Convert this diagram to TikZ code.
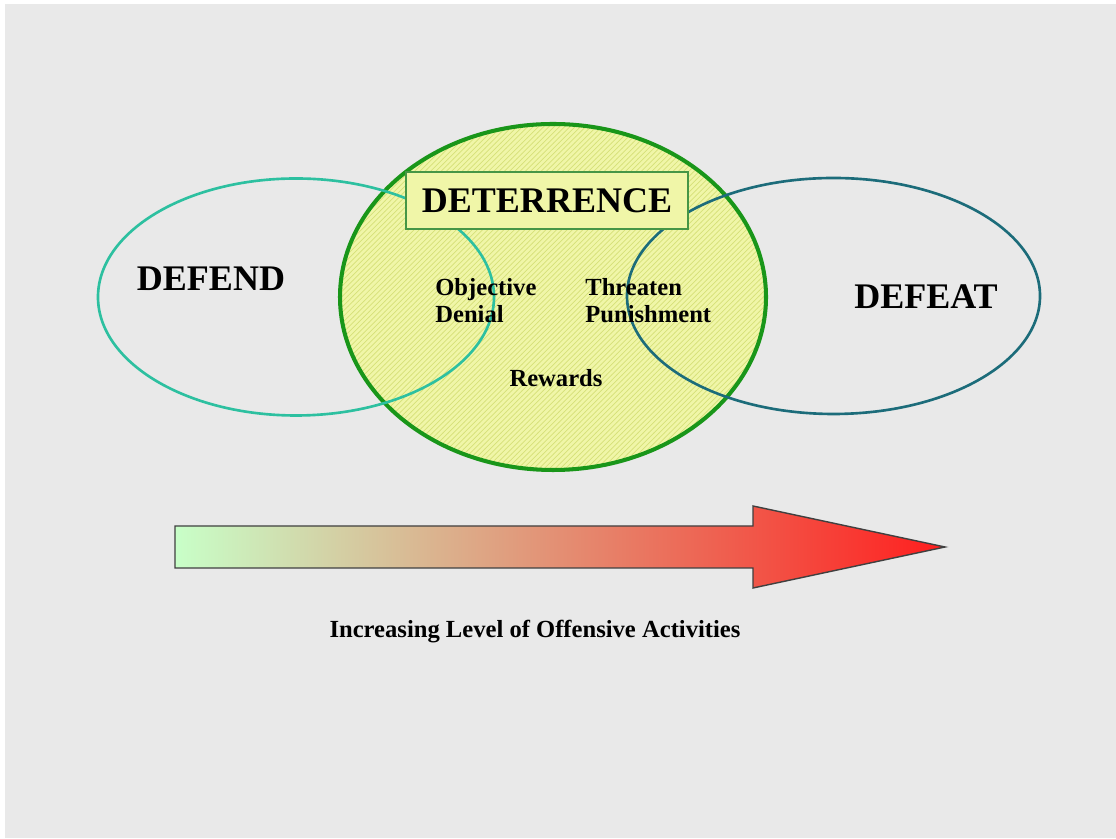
\documentclass[tikz,border=0pt]{standalone}
\usepackage{fontspec}
\setmainfont{Liberation Serif}
\usetikzlibrary{patterns}
\definecolor{pagegray}{RGB}{233,233,233}
\definecolor{defendline}{RGB}{45,192,160}
\definecolor{defeatline}{RGB}{28,108,122}
\definecolor{deterline}{RGB}{25,150,25}
\definecolor{boxline}{RGB}{70,150,70}
\definecolor{deterfill}{RGB}{240,246,168}
\definecolor{hatchline}{RGB}{214,224,120}
\definecolor{arrowgreen}{RGB}{200,255,200}
\definecolor{arrowtan}{RGB}{228,200,158}
\definecolor{arrowred}{RGB}{255,30,30}
\begin{document}
\begin{tikzpicture}[
        bigtext/.style={font=\fontsize{20.5}{24}\selectfont\bfseries, inner sep=0pt},
        smalltext/.style={font=\fontsize{14}{15.5}\selectfont\bfseries, inner sep=0pt,
            align=left},
        ring/.style={line width=1.5pt}]
    % page
    \fill[white] (0,0) rectangle (22.32,16.78);
    \fill[pagegray] (0.1,0.02) rectangle (22.32,16.70);

    % deterrence ellipse
    \fill[deterfill] (11.06,10.84) ellipse [x radius=4.26, y radius=3.46];
    \path[pattern=north east lines, pattern color=hatchline]
        (11.06,10.84) ellipse [x radius=4.26, y radius=3.46];
    \draw[deterline, line width=2.3pt] (11.06,10.84) ellipse [x radius=4.26, y radius=3.46];

	% defend and defeat
    \draw[ring, defendline] (5.92,10.84) ellipse [x radius=3.96, y radius=2.37];
    \draw[ring, defeatline] (16.67,10.86) ellipse [x radius=4.13, y radius=2.36];

    \node[bigtext, draw=boxline, line width=0.8pt, fill=deterfill,
        minimum width=5.64cm, minimum height=1.14cm] (deter) at (10.94,12.77) {DETERRENCE};
    \node[bigtext] (defend) at (4.22,11.2) {DEFEND};
    \node[bigtext] (defeat) at (18.52,10.84) {DEFEAT};

    \node[smalltext, anchor=west] (denial) at (8.7,10.77) {Objective\\Denial};
    \node[smalltext, anchor=west] (punish) at (11.7,10.77) {Threaten\\Punishment};
    \node[smalltext] (rewards) at (11.12,9.22) {Rewards};

    % offensive arrow
    \draw[line width=0.8pt, draw=black!75, left color=arrowgreen, middle color=arrowtan,
        right color=arrowred]
        (3.5,6.26) -- (15.06,6.26) -- (15.06,6.66) -- (18.9,5.84) -- (15.06,5.02)
        -- (15.06,5.42) -- (3.5,5.42) -- cycle;
    \node[smalltext] (level) at (10.7,4.14) {Increasing Level of Offensive Activities};
\end{tikzpicture}
\end{document}
